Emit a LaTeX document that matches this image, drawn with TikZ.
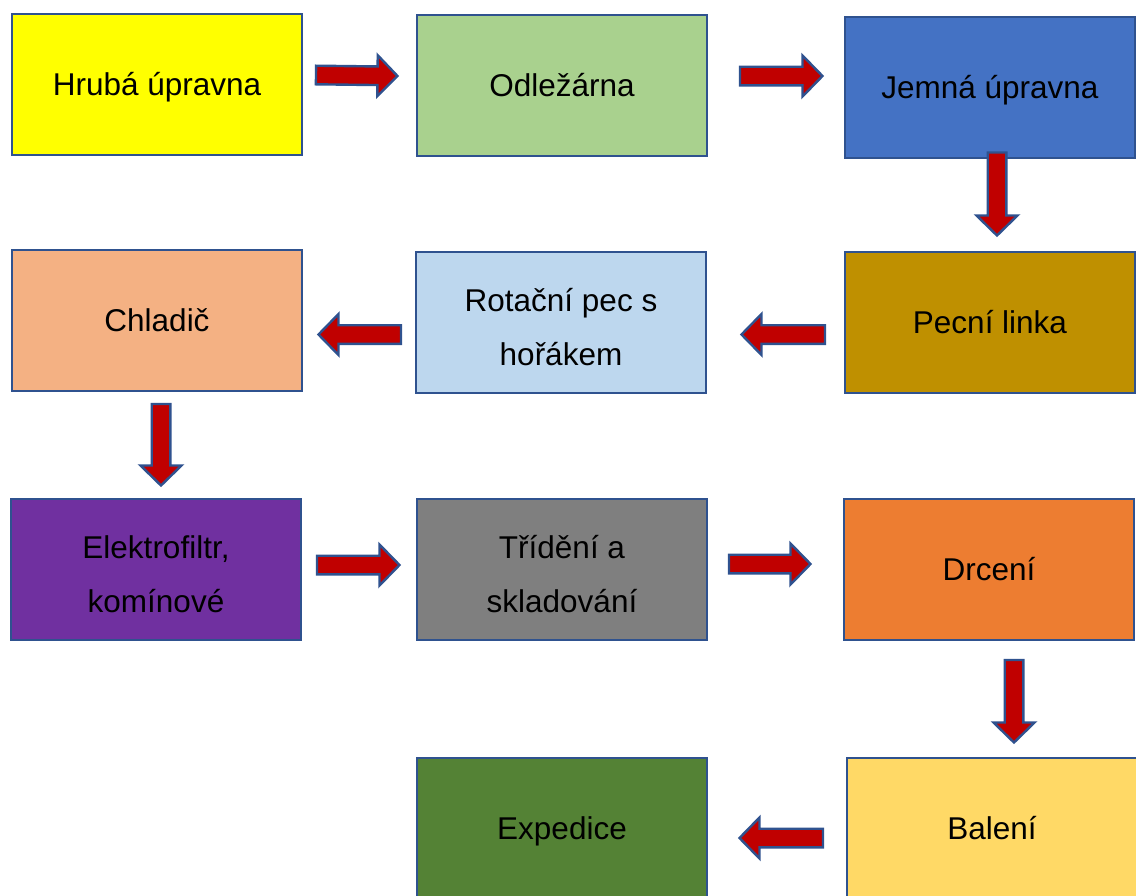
\documentclass[tikz,border=0pt]{standalone}
\usepackage{fontspec}
\setmainfont{Liberation Sans}
\usetikzlibrary{calc}
\definecolor{edgeblue}{HTML}{2F528F}
\definecolor{arrred}{HTML}{C00000}
\definecolor{cyellow}{HTML}{FFFF00}
\definecolor{cgreenl}{HTML}{A9D18E}
\definecolor{cblue}{HTML}{4472C4}
\definecolor{cgold}{HTML}{BF9000}
\definecolor{cbluel}{HTML}{BDD7EE}
\definecolor{cpeach}{HTML}{F4B183}
\definecolor{cpurple}{HTML}{7030A0}
\definecolor{cgrey}{HTML}{7F7F7F}
\definecolor{corange}{HTML}{ED7D31}
\definecolor{cgreend}{HTML}{548235}
\definecolor{cyellowl}{HTML}{FFD966}
% struts fixing the vertical placement of text
\newcommand\sA{\rule{0pt}{29.6pt}}
\newcommand\sB{\rule[-7pt]{0pt}{7pt}}
\newcommand\tA{\rule{0pt}{33pt}}
\newcommand\tB{\rule[-2pt]{0pt}{2pt}}
\tikzset{
  box/.style={draw=edgeblue, line width=2pt, rectangle, minimum width=290pt, minimum height=141pt,
    inner sep=0pt, align=center, font=\fontsize{31.5}{54}\selectfont},
  blockarrow/.style={draw=edgeblue, line width=2.4pt, fill=arrred, line join=miter}
}
\newcommand\blockarr[2]{%
  \coordinate (bam) at ($(#2)!20pt!(#1)$);
  \draw[blockarrow] ($(#1)!9.3pt!90:(#2)$) -- ($(bam)!9.3pt!90:(#2)$) -- ($(bam)!20.5pt!90:(#2)$)
    -- (#2) -- ($(bam)!20.5pt!-90:(#2)$) -- ($(bam)!9.3pt!-90:(#2)$) -- ($(#1)!9.3pt!-90:(#2)$) -- cycle;}
\begin{document}
\begin{tikzpicture}[x=1pt,y=-1pt]
\useasboundingbox (0,0) rectangle (1136,895);
\begin{scope}
\clip (0,0) rectangle (1136,895);
% boxes
\node[box, fill=cyellow] (hruba) at (157,84.5) {\sA Hrubá úpravna\sB};
\node[box, fill=cgreenl] (odle) at (562,85.5) {\sA Odležárna\sB};
\node[box, fill=cblue] (jemna) at (990,87) {\sA Jemná úpravna\sB};
\node[box, fill=cpeach] (chladic) at (157,320.5) {\sA Chladič\sB};
\node[box, fill=cbluel] (rotacni) at (561,322.5) {\tA Rotační pec s\\hořákem\tB};
\node[box, fill=cgold] (pecni) at (990,322.5) {\sA Pecní linka\sB};
\node[box, fill=cpurple] (elektro) at (156,569.5) {\tA Elektrofiltr,\\komínové\tB};
\node[box, fill=cgrey] (trideni) at (562,569.5) {\tA Třídění a\\skladování\tB};
\node[box, fill=corange] (drceni) at (989,569.5) {\sA Drcení\sB};
\node[box, fill=cgreend] (expedice) at (562,828.5) {\sA Expedice\sB};
\node[box, fill=cyellowl] (baleni) at (992,828.5) {\sA Balení\sB};
% arrow end points
\coordinate (a1s) at ($(hruba.east)+(13,-9.5)$);
\coordinate (a1e) at ($(odle.west)+(-18.5,-9.5)$);
\coordinate (a2s) at ($(odle.east)+(32,-9.5)$);
\coordinate (a2e) at ($(jemna.west)+(-21.5,-11)$);
\coordinate (a3s) at ($(jemna.south)+(7,-6)$);
\coordinate (a3e) at ($(pecni.north)+(7,-15.5)$);
\coordinate (a4s) at ($(pecni.west)+(-19,12)$);
\coordinate (a4e) at ($(rotacni.east)+(34.5,12)$);
\coordinate (a5s) at ($(rotacni.west)+(-14,12)$);
\coordinate (a5e) at ($(chladic.east)+(15.5,14)$);
\coordinate (a6s) at ($(chladic.south)+(4,12)$);
\coordinate (a6e) at ($(elektro.north)+(5,-12.5)$);
\coordinate (a7s) at ($(elektro.east)+(15,-4.5)$);
\coordinate (a7e) at ($(trideni.west)+(-16.5,-4.5)$);
\coordinate (a8s) at ($(trideni.east)+(21,-5.5)$);
\coordinate (a8e) at ($(drceni.west)+(-32.5,-5.5)$);
\coordinate (a9s) at ($(drceni.south)+(25,19)$);
\coordinate (a9e) at ($(baleni.north)+(22,-14.5)$);
\coordinate (a10s) at ($(baleni.west)+(-23,9.5)$);
\coordinate (a10e) at ($(expedice.east)+(31.5,9.5)$);
\blockarr{a1s}{a1e}
\blockarr{a2s}{a2e}
\blockarr{a3s}{a3e}
\blockarr{a4s}{a4e}
\blockarr{a5s}{a5e}
\blockarr{a6s}{a6e}
\blockarr{a7s}{a7e}
\blockarr{a8s}{a8e}
\blockarr{a9s}{a9e}
\blockarr{a10s}{a10e}
\end{scope}
\end{tikzpicture}
\end{document}
